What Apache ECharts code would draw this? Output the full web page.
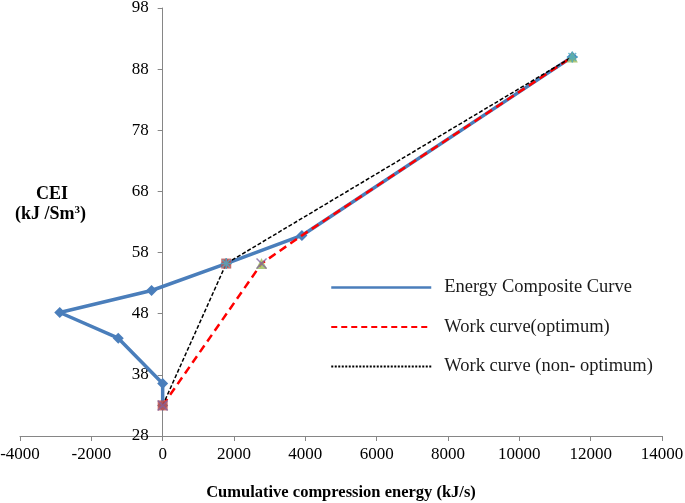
<!DOCTYPE html>
<html><head><meta charset="utf-8">
<script src="https://cdn.jsdelivr.net/npm/echarts@6/dist/echarts.min.js"></script>
<style>html,body{margin:0;padding:0;background:#fff}#c{width:685px;height:503px}</style>
</head><body><div id="c"></div>
<script>
var xTicks = [-4000, 14000, 2000];
var yTicks = [28, 98, 10];
var seriesNames = ['Energy Composite Curve', 'Work curve(optimum)', 'Work curve (non- optimum)'];
var ecX = [0, 0, -1245, -2885, -311, 1782, 3904, 11485];
var ecY = [33, 36.6, 44, 48.2, 51.8, 56.2, 60.8, 90];
var optX = [0, 2772, 3904, 11485];
var optY = [33, 56.2, 60.8, 90];
var nonX = [0, 1782, 11485];
var nonY = [33, 56.2, 90];
var sqX = [0, 1782], sqY = [33, 56.2];
var triX = [2772, 11485], triY = [56.2, 90];
var crossX = [0, 2772], crossY = [33, 56.2];
var starX = [1782, 11485], starY = [56.2, 90];

function pts(xs, ys){ return xs.map(function(x,i){return [x, ys[i]];}); }
var font = 'Liberation Serif, Times New Roman, serif';
var W = 685, gL = 20, gR = 23;
var zeroOffset = (W - gL - gR) * (0 - xTicks[0]) / (xTicks[1] - xTicks[0]);
var chart = echarts.init(document.getElementById('c'));
var crossPath = 'path://M0,0L10,10M10,0L0,10';
var starPath = 'path://M5,0L5,10M0,5L10,5M1.5,1.5L8.5,8.5M8.5,1.5L1.5,8.5';
chart.setOption({
  animation: false,
  grid: {left: gL, right: gR, top: 8, bottom: 67, outerBoundsMode: 'none'},
  xAxis: {
    type: 'value', min: xTicks[0], max: xTicks[1], interval: xTicks[2],
    axisLine: {onZero: false, lineStyle: {color: '#868686', width: 1}},
    axisTick: {show: true, inside: false, length: 5, lineStyle: {color: '#868686'}},
    splitLine: {show: false},
    axisLabel: {color: '#000', fontFamily: font, fontSize: 17, margin: 10, formatter: function(v){return String(v);}},
    name: 'Cumulative compression energy (kJ/s)', nameLocation: 'middle', nameGap: 48,
    nameTextStyle: {color: '#000', fontFamily: font, fontSize: 16.5, fontWeight: 'bold'}
  },
  yAxis: {
    type: 'value', min: yTicks[0], max: yTicks[1], interval: yTicks[2],
    position: 'left', offset: -zeroOffset,
    axisLine: {show: true, onZero: false, lineStyle: {color: '#868686', width: 1}},
    axisTick: {show: true, length: 5, lineStyle: {color: '#868686'}},
    splitLine: {show: false},
    axisLabel: {color: '#000', fontFamily: font, fontSize: 17, margin: 14}
  },
  legend: {
    orient: 'vertical', left: 325, top: 273, itemWidth: 100, itemHeight: 20, itemGap: 20.5,
    textStyle: {color: '#1a1a1a', fontFamily: font, fontSize: 18.5, padding: [0,0,0,8]},
    data: [
      {name: seriesNames[0], itemStyle: {opacity: 0}, lineStyle: {color: '#4a7ebb', width: 2.5}},
      {name: seriesNames[1], itemStyle: {opacity: 0}, lineStyle: {color: '#ff0000', width: 2, type: [6, 4]}},
      {name: seriesNames[2], itemStyle: {opacity: 0}, lineStyle: {color: '#000000', width: 2, type: [2, 1.5]}}
    ]
  },
  series: [
    {name: seriesNames[0], type: 'line', data: pts(ecX, ecY), symbol: 'diamond', symbolSize: 11,
     lineStyle: {color: '#4a7ebb', width: 3.5}, itemStyle: {color: '#4a7ebb'}, z: 2},
    {name: seriesNames[1], type: 'line', data: pts(optX, optY), symbol: 'none',
     lineStyle: {color: '#ff0000', width: 2.5, type: [8, 5]}, itemStyle: {color: '#ff0000'}, z: 3},
    {name: seriesNames[2], type: 'line', data: pts(nonX, nonY), symbol: 'none',
     lineStyle: {color: '#000000', width: 1.5, type: [4, 2]}, itemStyle: {color: '#000'}, z: 4},
    {name: 'sq', type: 'scatter', data: pts(sqX, sqY), symbol: 'rect', symbolSize: 10,
     itemStyle: {color: '#c0504d', opacity: 0.85}, z: 5},
    {name: 'tri', type: 'scatter', data: pts(triX, triY), symbol: 'triangle', symbolSize: 11,
     itemStyle: {color: '#9bbb59'}, z: 5},
    {name: 'x', type: 'scatter', data: pts(crossX, crossY), symbol: crossPath, symbolSize: 10,
     itemStyle: {color: 'none', borderColor: '#8064a2', borderWidth: 1.5}, z: 6},
    {name: 'star', type: 'scatter', data: pts(starX, starY), symbol: starPath, symbolSize: 11,
     itemStyle: {color: 'none', borderColor: '#4bacc6', borderWidth: 1.5}, z: 6}
  ],
  graphic: [
    {type: 'text', left: 36, top: 185, style: {text: 'CEI', fill: '#000', font: 'bold 18px ' + font}},
    {type: 'text', left: 15, top: 205, style: {text: '(kJ /Sm{s|3})', fill: '#000', font: 'bold 18px ' + font,
      rich: {s: {fontSize: 11, fontWeight: 'bold', fontFamily: font, verticalAlign: 'top', padding: [0,0,6,0]}}}}
  ]
});
</script></body></html>
